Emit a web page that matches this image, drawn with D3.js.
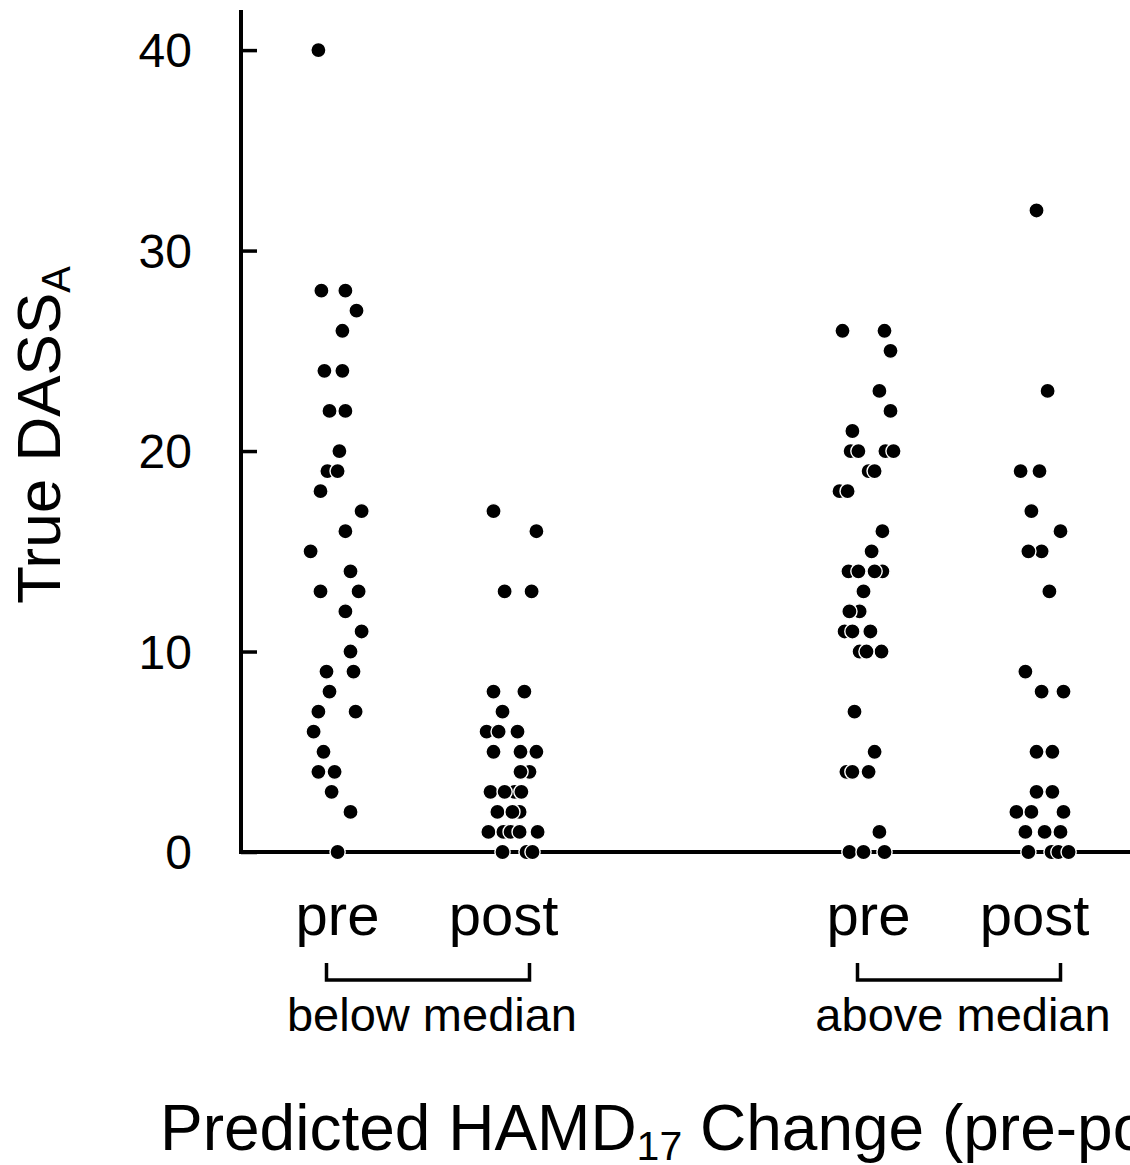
<!DOCTYPE html>
<html lang="en">
<head>
<meta charset="utf-8">
<title>DASS-A by predicted HAMD17 change</title>
<script src="https://cdn.jsdelivr.net/npm/d3@7"></script>
<style>
  body { margin: 0; background: #fff; }
  svg text { font-family: "Liberation Sans", Arial, Helvetica, sans-serif; fill: #000; }
  .axis path, .axis line { stroke: #000; }
</style>
</head>
<body>
<svg id="chart" width="1130" height="1165"></svg>
<script>
// groups and phases
var groups = ["below median", "above median"];
var phases = ["pre", "post"];
var yTicks = [0, 10, 20, 30, 40];

// values, with horizontal jitter (-1..1 of jitter half-width)
var belowPreVals = [40,28,28,27,26,24,24,22,22,20,19,19,18,17,16,15,14,13,13,12,11,10,9,9,8,7,7,6,5,4,4,3,2,0];
var belowPreJit  = [-0.57,-0.47,0.33,0.7,0.23,-0.37,0.23,-0.2,0.33,0.13,-0.27,0.07,-0.5,0.87,0.33,-0.83,0.5,-0.5,0.77,0.33,0.87,0.5,-0.3,0.6,-0.2,-0.57,0.67,-0.73,-0.4,-0.57,-0.03,-0.13,0.5,0.07];

var belowPostVals = [17,16,13,13,8,8,7,6,6,6,5,5,5,4,4,3,3,3,3,2,2,2,1,1,1,1,1,0,0,0];
var belowPostJit  = [-0.6,0.83,-0.23,0.67,-0.6,0.43,-0.3,-0.83,-0.43,0.2,-0.6,0.3,0.83,0.6,0.3,-0.7,0.1,0.33,-0.23,0.27,-0.47,0.03,-0.77,-0.27,-0.03,0.27,0.87,0.5,-0.3,0.7];

var abovePreVals = [26,26,25,23,22,21,20,20,20,20,19,19,18,18,16,15,14,14,14,14,13,12,12,11,11,11,10,10,10,7,5,4,4,4,1,0,0,0];
var abovePreJit  = [-0.8,0.6,0.8,0.43,0.8,-0.47,-0.53,-0.27,0.63,0.9,0.07,0.27,-0.9,-0.63,0.53,0.17,-0.6,0.53,-0.27,0.27,-0.1,-0.23,-0.57,-0.73,0.13,-0.47,-0.23,0.5,0,-0.4,0.27,-0.67,-0.47,0.07,0.43,-0.57,0.6,-0.1];

var abovePostVals = [32,23,19,19,17,16,15,15,13,9,8,8,5,5,3,3,2,2,2,1,1,1,0,0,0,0];
var abovePostJit  = [-0.2,0.17,-0.73,-0.1,-0.37,0.6,-0.03,-0.47,0.23,-0.57,-0.03,0.7,-0.2,0.33,-0.2,0.33,-0.87,-0.37,0.7,-0.57,0.07,0.6,0.3,0.53,-0.47,0.87];

var series = [
  {group: "below median", phase: "pre",  vals: belowPreVals,  jit: belowPreJit},
  {group: "below median", phase: "post", vals: belowPostVals, jit: belowPostJit},
  {group: "above median", phase: "pre",  vals: abovePreVals,  jit: abovePreJit},
  {group: "above median", phase: "post", vals: abovePostVals, jit: abovePostJit}
];

var svg = d3.select("#chart");
var axisX = 241, axisY0 = 852;

var y = d3.scaleLinear().domain([0, 42]).range([852, 10]);
var gx = d3.scaleBand().domain(groups).range([158, 1220]);
var px = d3.scalePoint().domain(phases).range([-88, 88]);
var jx = d3.scaleLinear().domain([-1, 1]).range([-30, 30]);

function cx(g, p) { return gx(g) + gx.bandwidth() / 2 + px(p); }

// y axis
var yAxis = d3.axisRight(y).tickValues(yTicks).tickSize(16).tickFormat("");
var ya = svg.append("g").attr("class", "axis").attr("transform", "translate(" + axisX + ",0)").call(yAxis);
ya.select(".domain").remove();
ya.selectAll(".tick line").attr("stroke-width", 3.5);
ya.append("line").attr("x1", 0).attr("x2", 0).attr("y1", y(42)).attr("y2", y(0) + 2)
  .attr("stroke", "#000").attr("stroke-width", 4);

svg.append("g").selectAll("text").data(yTicks).enter().append("text")
  .attr("x", 192).attr("y", function(d) { return y(d); })
  .attr("dy", "0.36em").attr("text-anchor", "end")
  .style("font-size", "48px")
  .text(function(d) { return d; });

// x axis baseline
svg.append("line").attr("x1", axisX - 2).attr("x2", 1130).attr("y1", axisY0).attr("y2", axisY0)
  .attr("stroke", "#000").attr("stroke-width", 4);

// points
series.forEach(function(s) {
  var pts = s.vals.map(function(v, i) { return {v: v, j: s.jit[i]}; });
  svg.append("g").selectAll("circle").data(pts).enter().append("circle")
    .attr("cx", function(d) { return cx(s.group, s.phase) + jx(d.j); })
    .attr("cy", function(d) { return y(d.v); })
    .attr("r", 7.6)
    .attr("fill", "#000")
    .attr("stroke", "#fff")
    .attr("stroke-width", 1.4);
});

// phase labels, brackets, group labels
groups.forEach(function(g) {
  phases.forEach(function(p) {
    svg.append("text").attr("x", cx(g, p) + (p === "post" ? -8 : 2)).attr("y", 935).attr("text-anchor", "middle")
      .style("font-size", "58px").text(p);
  });
  var x1 = cx(g, "pre") - 9, x2 = cx(g, "post") + 18;
  svg.append("path")
    .attr("d", "M" + x1 + ",963V980H" + x2 + "V963")
    .attr("fill", "none").attr("stroke", "#000").attr("stroke-width", 3.5);
  svg.append("text").attr("x", (x1 + x2) / 2 + 4).attr("y", 1031).attr("text-anchor", "middle")
    .style("font-size", "47px").text(g);
});

// axis titles
var yt = svg.append("text").attr("transform", "translate(60,435) rotate(-90)")
  .attr("text-anchor", "middle").style("font-size", "62px");
yt.append("tspan").text("True DASS");
yt.append("tspan").attr("dy", "0.25em").style("font-size", "40px").text("A");

var xt = svg.append("text").attr("x", 160).attr("y", 1150).style("font-size", "64px");
xt.append("tspan").text("Predicted HAMD");
xt.append("tspan").attr("dy", "0.25em").style("font-size", "41px").text("17");
xt.append("tspan").attr("dy", "-0.16em").text(" Change (pre-post)");
</script>
</body>
</html>
